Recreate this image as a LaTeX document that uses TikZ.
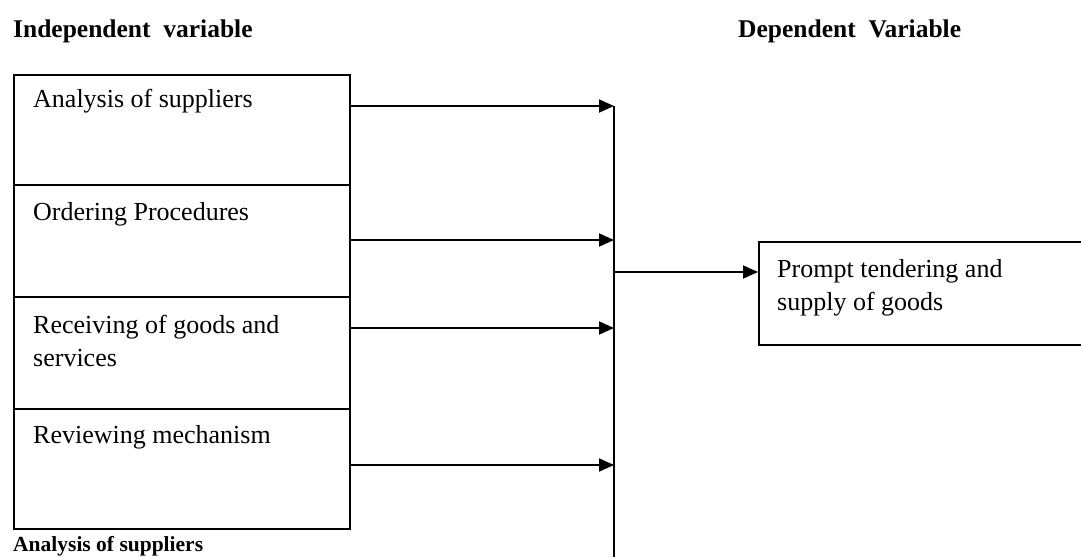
\documentclass[tikz,border=0pt]{standalone}
\usepackage{fontspec}
\setmainfont{Liberation Serif}
\usetikzlibrary{arrows.meta}
\begin{document}
\begin{tikzpicture}[x=1pt,y=-1pt,
  box/.style={draw, line width=1.8pt, rectangle, inner sep=0pt, anchor=north west},
  lbl/.style={anchor=base west, inner sep=0pt, font=\fontsize{26}{33}\selectfont, align=left},
  title/.style={anchor=base west, inner sep=0pt, font=\fontsize{25.5}{28}\selectfont\bfseries},
  conn/.style={line width=1.8pt},
  arr/.style={line width=1.8pt, -{Triangle[length=15pt,width=13pt]}}]
\useasboundingbox (0,0) rectangle (1081,557);
% titles
\node[title] (tind) at (13,37) {Independent\ \ variable};
\node[title] (tdep) at (738,37) {Dependent\ \ Variable};
\node[title, font=\fontsize{21.5}{26}\selectfont\bfseries] (tbot) at (13,551) {Analysis of suppliers};
% left boxes
\node[box, minimum width=336pt, minimum height=110pt] (b1) at (13,74) {};
\node[box, minimum width=336pt, minimum height=112pt] (b2) at (13,184) {};
\node[box, minimum width=336pt, minimum height=112pt] (b3) at (13,296) {};
\node[box, minimum width=336pt, minimum height=120pt] (b4) at (13,408) {};
\node[lbl] (l1) at (33,107) {Analysis of suppliers};
\node[lbl] (l2) at (33,220) {Ordering Procedures};
\node[lbl] (l3) at (33,366) {Receiving of goods and\\services};
\node[lbl] (l4) at (33,443) {Reviewing mechanism};
% dependent box
\node[box, minimum width=323pt, minimum height=103pt] (dep) at (758,241) {};
\node[lbl] (ld) at (777,310) {Prompt tendering and\\supply of goods};
% bus line
\coordinate (a1) at (614,106);
\coordinate (a2) at (614,240);
\coordinate (a3) at (614,328);
\coordinate (a4) at (614,465);
\coordinate (m) at (614,272);
\coordinate (vb) at (614,557);
\draw[conn] (a1) -- (vb);
\draw[arr] (b1.east |- a1) -- (a1);
\draw[arr] (b2.east |- a2) -- (a2);
\draw[arr] (b3.east |- a3) -- (a3);
\draw[arr] (b4.east |- a4) -- (a4);
\draw[arr] (m) -- (dep.west |- m);
\end{tikzpicture}
\end{document}
